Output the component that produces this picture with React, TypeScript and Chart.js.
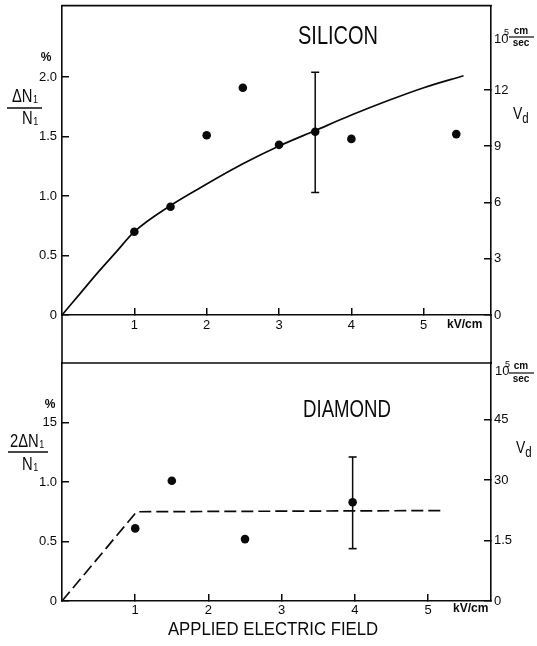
import React, { useEffect, useRef } from 'react';
import { Chart, registerables } from 'chart.js';

Chart.register(...registerables);

// ---------------- Data ----------------
const xTickValues = [1, 2, 3, 4, 5];
const xTickLabels = ['1', '2', '3', '4', '5'];

// Silicon panel
const siliconFieldKV = [1, 1.5, 2, 2.5, 3, 3.5, 4, 5.45];
const siliconSignal = [0.7, 0.91, 1.51, 1.91, 1.43, 1.54, 1.48, 1.52];
const siliconErrField = [3.5];
const siliconErrLow = [1.03];
const siliconErrHigh = [2.04];
const siliconCurveField = [0, 0.25, 0.5, 0.75, 1, 1.5, 2, 2.5, 3, 3.5, 4, 4.5, 5, 5.55];
const siliconCurveSignal = [0, 0.18, 0.36, 0.53, 0.7, 0.92, 1.1, 1.27, 1.42, 1.55, 1.68, 1.8, 1.91, 2.01];
const siliconLeftTickValues = [0, 0.5, 1, 1.5, 2];
const siliconLeftTickLabels = ['0', '0.5', '1.0', '1.5', '2.0'];
const siliconRightTickValues = [0, 3, 6, 9, 12];
const siliconRightTickLabels = ['0', '3', '6', '9', '12'];

// Diamond panel
const diamondFieldKV = [1, 1.5, 2.5, 3.97];
const diamondSignal = [0.61, 1.01, 0.52, 0.83];
const diamondErrField = [3.97];
const diamondErrLow = [0.44];
const diamondErrHigh = [1.21];
const diamondModelField = [0, 1.02, 5.18];
const diamondModelSignal = [0, 0.75, 0.76];
const diamondLeftTickValues = [0, 0.5, 1, 1.5];
const diamondLeftTickLabels = ['0', '0.5', '1.0', '15'];
const diamondRightTickValues = [0, 1.5, 3, 4.5];
const diamondRightTickLabels = ['0', '1.5', '30', '45'];

// Axis ranges
const siliconXMax = 5.93;
const siliconYMax = 2.6;
const siliconVMax = 16.5;
const diamondXMax = 5.86;
const diamondYMax = 2.0;
const diamondVMax = 5.9;

// ---------------- Styles ----------------
const INK = '#0a0a0a';
const SANS = '"Liberation Sans", Arial, Helvetica, sans-serif';
const TICK_LEN = 7;

type Piece =
  | { t: string; x: number; y: number; font: string; align?: 'left' | 'center'; sx?: number; sub?: string; subFont?: string; subDy?: number; subDx?: number }
  | { bar: [number, number, number]; w?: number };

function makeLabelPlugin(pieces: Piece[], offsetY: number) {
  return {
    id: 'paperLabels',
    afterDraw(chart: any) {
      const ctx: CanvasRenderingContext2D = chart.ctx;
      ctx.save();
      ctx.fillStyle = INK;
      ctx.strokeStyle = INK;
      for (const p of pieces as any[]) {
        if (p.bar) {
          ctx.lineWidth = p.w || 1.4;
          ctx.beginPath();
          ctx.moveTo(p.bar[0], p.bar[2] - offsetY);
          ctx.lineTo(p.bar[1], p.bar[2] - offsetY);
          ctx.stroke();
          continue;
        }
        const sx = p.sx || 1;
        ctx.save();
        ctx.font = p.font;
        ctx.textBaseline = 'middle';
        ctx.textAlign = 'left';
        const w = ctx.measureText(p.t).width * sx;
        const x0 = p.align === 'center' ? p.x - w / 2 : p.x;
        ctx.translate(x0, p.y - offsetY);
        ctx.scale(sx, 1);
        ctx.fillText(p.t, 0, 0);
        ctx.restore();
        if (p.sub) {
          ctx.save();
          ctx.font = p.subFont;
          ctx.textBaseline = 'middle';
          ctx.textAlign = 'left';
          ctx.translate(x0 + w + (p.subDx || 0), p.y - offsetY + (p.subDy || 0));
          ctx.scale(sx, 1);
          ctx.fillText(p.sub, 0, 0);
          ctx.restore();
        }
      }
      ctx.restore();
    },
  };
}

function makeFramePlugin(extendTo: number | null) {
  return {
    id: 'paperFrame',
    afterDraw(chart: any) {
      const ctx: CanvasRenderingContext2D = chart.ctx;
      const a = chart.chartArea;
      ctx.save();
      ctx.strokeStyle = INK;
      ctx.lineWidth = 1.6;
      ctx.beginPath();
      ctx.moveTo(a.left - 0.8, a.top);
      ctx.lineTo(a.right + 0.8, a.top);
      if (extendTo !== null) {
        ctx.moveTo(a.left, a.bottom);
        ctx.lineTo(a.left, extendTo);
        ctx.moveTo(a.right, a.bottom);
        ctx.lineTo(a.right, extendTo);
      }
      ctx.stroke();
      ctx.restore();
    },
  };
}

function fixedTicks(values: number[]) {
  return (scale: any) => {
    scale.ticks = values.map((v) => ({ value: v }));
  };
}

// Tick marks point into the plot (negative tick length), labels sit outside.
function axisCommon(labels: string[], padding: number) {
  return {
    grid: {
      display: true,
      drawOnChartArea: false,
      drawTicks: true,
      tickLength: -TICK_LEN,
      color: INK,
      lineWidth: 1.5,
    },
    border: { display: true, color: INK, width: 1.6 },
    ticks: {
      callback: (_v: any, i: number) => labels[i],
      padding: padding + TICK_LEN,
      color: INK,
      font: { family: SANS, size: 13 },
      autoSkip: false,
      maxRotation: 0,
    },
  };
}

function buildConfig(opts: any) {
  return {
    type: 'scatter',
    data: {
      datasets: [
        {
          data: opts.curve,
          showLine: true,
          borderColor: INK,
          borderWidth: 1.7,
          borderDash: opts.dashed ? [12, 5] : [],
          pointRadius: 0,
          cubicInterpolationMode: opts.dashed ? 'default' : 'monotone',
          tension: 0,
          fill: false,
          xAxisID: 'x',
          yAxisID: 'y',
        },
        {
          data: opts.err,
          showLine: true,
          borderColor: INK,
          borderWidth: 1.5,
          pointStyle: 'line',
          pointRadius: 4,
          pointBorderColor: INK,
          pointBorderWidth: 1.6,
          xAxisID: 'x',
          yAxisID: 'y',
        },
        {
          data: opts.pts,
          showLine: false,
          pointRadius: 4.3,
          pointStyle: 'circle',
          pointBackgroundColor: INK,
          pointBorderColor: INK,
          pointBorderWidth: 0,
          xAxisID: 'x',
          yAxisID: 'y',
        },
      ],
    },
    options: {
      responsive: false,
      animation: false,
      events: [],
      layout: { padding: { top: opts.padTop, left: 0, right: 0, bottom: 0 } },
      plugins: { legend: { display: false }, tooltip: { enabled: false }, title: { display: false } },
      scales: {
        x: {
          type: 'linear',
          position: 'bottom',
          min: 0,
          max: opts.xMax,
          afterBuildTicks: fixedTicks(xTickValues),
          afterFit: (s: any) => {
            s.height = opts.xH;
            s.paddingLeft = 0;
            s.paddingRight = 0;
          },
          ...axisCommon(xTickLabels, opts.xPad),
        },
        y: {
          type: 'linear',
          position: 'left',
          min: 0,
          max: opts.yMax,
          afterBuildTicks: fixedTicks(opts.leftVals),
          afterFit: (s: any) => {
            s.width = opts.leftW;
            s.paddingTop = 0;
            s.paddingBottom = 0;
          },
          ...axisCommon(opts.leftLabels, 5),
        },
        yR: {
          type: 'linear',
          position: 'right',
          min: 0,
          max: opts.vMax,
          afterBuildTicks: fixedTicks(opts.rightVals),
          afterFit: (s: any) => {
            s.width = opts.rightW;
            s.paddingTop = 0;
            s.paddingBottom = 0;
          },
          ...axisCommon(opts.rightLabels, 3),
        },
      },
    },
    plugins: opts.plugins,
  };
}

const topPieces: Piece[] = [
  { t: 'SILICON', x: 338, y: 37, font: `25px ${SANS}`, align: 'center', sx: 0.8 },
  { t: '%', x: 46, y: 58, font: `bold 12px ${SANS}`, align: 'center' },
  { t: 'ΔN', x: 12, y: 97, font: `18px ${SANS}`, sx: 0.82, sub: '1', subFont: `11px ${SANS}`, subDy: 3, subDx: 0.5 },
  { bar: [7, 42, 108], w: 1.5 },
  { t: 'N', x: 22, y: 119, font: `18px ${SANS}`, sx: 0.82, sub: '1', subFont: `11px ${SANS}`, subDy: 3, subDx: 0.5 },
  { t: '10', x: 494, y: 39, font: `13px ${SANS}` },
  { t: '5', x: 504, y: 33, font: `9px ${SANS}` },
  { t: 'cm', x: 521, y: 31, font: `bold 10px ${SANS}`, align: 'center' },
  { bar: [509, 534, 37], w: 1.2 },
  { t: 'sec', x: 521, y: 43, font: `bold 10px ${SANS}`, align: 'center' },
  { t: 'V', x: 513, y: 114, font: `17px ${SANS}`, sx: 0.82, sub: 'd', subFont: `14px ${SANS}`, subDy: 5, subDx: 0 },
  { t: 'kV/cm', x: 447, y: 325, font: `bold 12px ${SANS}` },
];

const BOTTOM_TOP = 340;
const bottomPieces: Piece[] = [
  { t: 'DIAMOND', x: 347, y: 411, font: `23px ${SANS}`, align: 'center', sx: 0.81 },
  { t: '%', x: 50, y: 405, font: `bold 12px ${SANS}`, align: 'center' },
  { t: '2ΔN', x: 10, y: 442, font: `18px ${SANS}`, sx: 0.82, sub: '1', subFont: `11px ${SANS}`, subDy: 3, subDx: 0.5 },
  { bar: [8, 48, 452], w: 1.5 },
  { t: 'N', x: 22, y: 465, font: `18px ${SANS}`, sx: 0.82, sub: '1', subFont: `11px ${SANS}`, subDy: 3, subDx: 0.5 },
  { t: '10', x: 495, y: 371, font: `13px ${SANS}` },
  { t: '5', x: 505, y: 365, font: `9px ${SANS}` },
  { t: 'cm', x: 521, y: 366, font: `bold 10px ${SANS}`, align: 'center' },
  { bar: [509, 534, 373], w: 1.2 },
  { t: 'sec', x: 521, y: 379, font: `bold 10px ${SANS}`, align: 'center' },
  { t: 'V', x: 516, y: 448, font: `17px ${SANS}`, sx: 0.82, sub: 'd', subFont: `14px ${SANS}`, subDy: 5, subDx: 0 },
  { t: 'kV/cm', x: 453, y: 609, font: `bold 12px ${SANS}` },
  { t: 'APPLIED ELECTRIC FIELD', x: 273, y: 630, font: `18px ${SANS}`, align: 'center', sx: 0.93 },
];

const pair = (xs: number[], ys: number[]) => xs.map((x, i) => ({ x, y: ys[i] }));
const errPairs = (xs: number[], lo: number[], hi: number[]) =>
  xs.flatMap((x, i) => [
    { x, y: lo[i] },
    { x, y: hi[i] },
  ]);

export default function App() {
  const topRef = useRef<HTMLCanvasElement>(null);
  const botRef = useRef<HTMLCanvasElement>(null);

  useEffect(() => {
    const topCfg = buildConfig({
      curve: pair(siliconCurveField, siliconCurveSignal),
      dashed: false,
      err: errPairs(siliconErrField, siliconErrLow, siliconErrHigh),
      pts: pair(siliconFieldKV, siliconSignal),
      xMax: siliconXMax,
      yMax: siliconYMax,
      vMax: siliconVMax,
      leftVals: siliconLeftTickValues,
      leftLabels: siliconLeftTickLabels,
      rightVals: siliconRightTickValues,
      rightLabels: siliconRightTickLabels,
      padTop: 5,
      leftW: 62,
      rightW: 537 - 491,
      xH: 370 - 315,
      xPad: 3,
      plugins: [makeFramePlugin(364), makeLabelPlugin(topPieces, 0)],
    });
    const botCfg = buildConfig({
      curve: pair(diamondModelField, diamondModelSignal),
      dashed: true,
      err: errPairs(diamondErrField, diamondErrLow, diamondErrHigh),
      pts: pair(diamondFieldKV, diamondSignal),
      xMax: diamondXMax,
      yMax: diamondYMax,
      vMax: diamondVMax,
      leftVals: diamondLeftTickValues,
      leftLabels: diamondLeftTickLabels,
      rightVals: diamondRightTickValues,
      rightLabels: diamondRightTickLabels,
      padTop: 363 - BOTTOM_TOP,
      leftW: 62,
      rightW: 537 - 491,
      xH: 646 - 601,
      xPad: 2,
      plugins: [makeFramePlugin(null), makeLabelPlugin(bottomPieces, BOTTOM_TOP)],
    });
    const c1 = new Chart(topRef.current as HTMLCanvasElement, topCfg as any);
    const c2 = new Chart(botRef.current as HTMLCanvasElement, botCfg as any);
    return () => {
      c1.destroy();
      c2.destroy();
    };
  }, []);

  return (
    <div
      style={{
        position: 'absolute',
        left: 0,
        top: 0,
        width: 537,
        height: 646,
        background: '#fff',
        overflow: 'hidden',
      }}
    >
      <canvas
        ref={topRef}
        width={537}
        height={370}
        style={{ position: 'absolute', left: 0, top: 0, width: 537, height: 370 }}
      />
      <canvas
        ref={botRef}
        width={537}
        height={646 - BOTTOM_TOP}
        style={{ position: 'absolute', left: 0, top: BOTTOM_TOP, width: 537, height: 646 - BOTTOM_TOP }}
      />
    </div>
  );
}
